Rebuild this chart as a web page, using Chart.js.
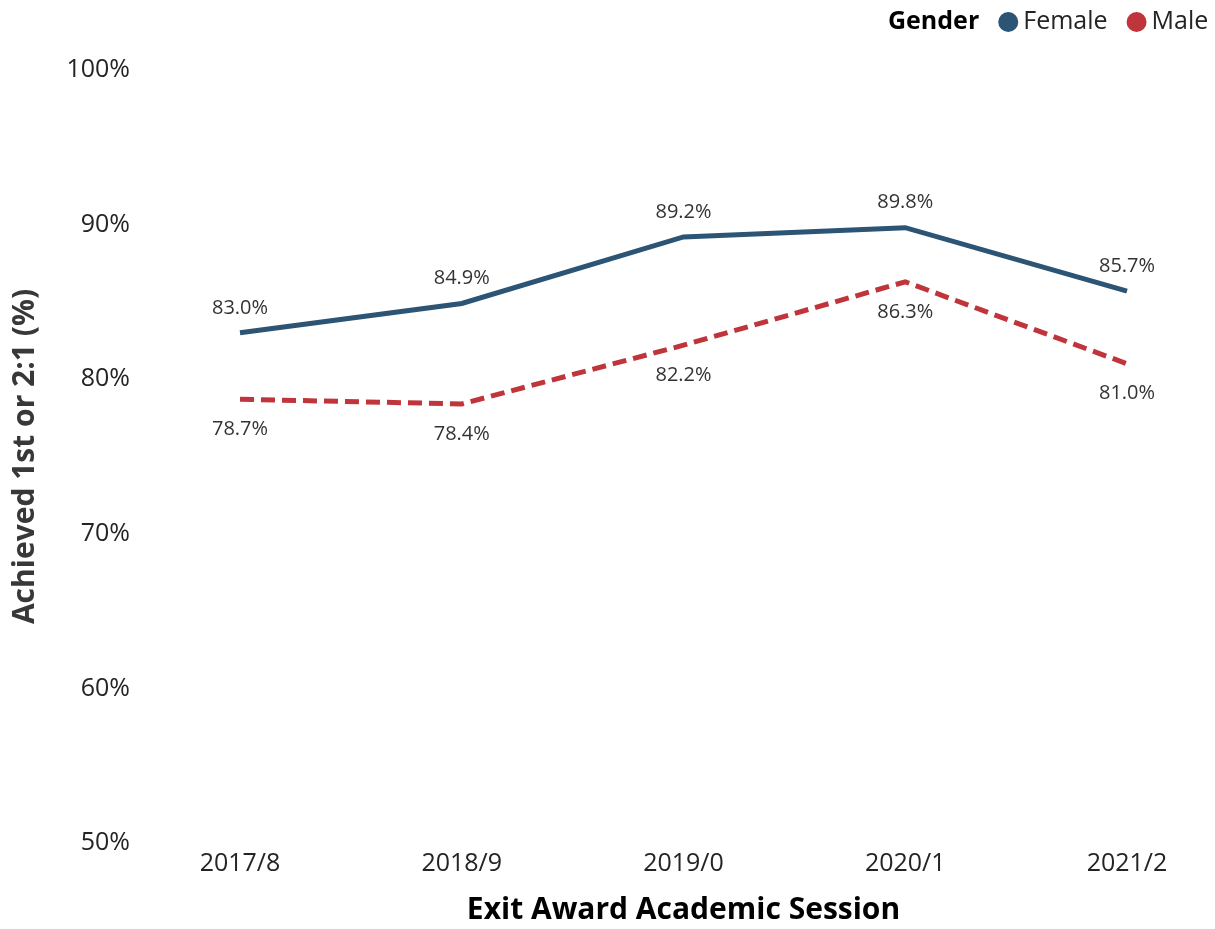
<!DOCTYPE html>
<html>
<head>
<meta charset="utf-8">
<script src="https://cdn.jsdelivr.net/npm/chart.js@4.4.1/dist/chart.umd.min.js"></script>
<style>
  html, body { margin: 0; padding: 0; background: #ffffff; }
  #wrap { width: 1215px; height: 929px; position: relative; }
</style>
</head>
<body>
<div id="wrap"><canvas id="c" width="1215" height="929"></canvas></div>
<script>
const categories = ["2017/8", "2018/9", "2019/0", "2020/1", "2021/2"];
const femaleValues = [83.0, 84.9, 89.2, 89.8, 85.7];
const maleValues = [78.7, 78.4, 82.2, 86.3, 81.0];
const yTickValues = [50, 60, 70, 80, 90, 100];

const FONT = "'Open Sans', 'Noto Sans', sans-serif";
const FEMALE_COLOR = "#2b5475";
const MALE_COLOR = "#c0343b";
const TEXT_COLOR = "#252423";

const dataLabelPlugin = {
  id: "dataLabels",
  afterDatasetsDraw(chart) {
    const ctx = chart.ctx;
    ctx.save();
    ctx.font = "20px " + FONT;
    ctx.fillStyle = "#333333";
    ctx.textAlign = "center";
    ctx.textBaseline = "middle";
    chart.data.datasets.forEach((ds, i) => {
      const meta = chart.getDatasetMeta(i);
      meta.data.forEach((pt, j) => {
        ctx.fillText(ds.data[j].toFixed(1) + "%", pt.x, pt.y + ds.labelOffset);
      });
    });
    ctx.restore();
  }
};

const legendPlugin = {
  id: "customLegend",
  afterDraw(chart) {
    const ctx = chart.ctx;
    ctx.save();
    ctx.textBaseline = "middle";
    ctx.textAlign = "left";
    const y = 22;
    let x = 888;
    ctx.font = "bold 25px " + FONT;
    ctx.fillStyle = "#000000";
    ctx.fillText("Gender", x, y);
    x += ctx.measureText("Gender").width + 19;
    ctx.font = "25px " + FONT;
    chart.data.datasets.forEach((ds) => {
      ctx.beginPath();
      ctx.fillStyle = ds.borderColor;
      ctx.arc(x + 10, y, 10, 0, Math.PI * 2);
      ctx.fill();
      x += 25;
      ctx.fillStyle = TEXT_COLOR;
      ctx.fillText(ds.label, x, y);
      x += ctx.measureText(ds.label).width + 19;
    });
    ctx.restore();
  }
};

new Chart(document.getElementById("c"), {
  type: "line",
  data: {
    labels: categories,
    datasets: [
      {
        label: "Female",
        data: femaleValues,
        borderColor: FEMALE_COLOR,
        backgroundColor: FEMALE_COLOR,
        borderWidth: 5,
        pointRadius: 0,
        tension: 0,
        labelOffset: -25
      },
      {
        label: "Male",
        data: maleValues,
        borderColor: MALE_COLOR,
        backgroundColor: MALE_COLOR,
        borderWidth: 5,
        borderDash: [14, 7],
        pointRadius: 0,
        tension: 0,
        labelOffset: 30
      }
    ]
  },
  options: {
    responsive: false,
    animation: false,
    devicePixelRatio: 1,
    layout: { padding: { top: 70, right: 0, bottom: 0, left: 0 } },
    plugins: {
      legend: { display: false },
      tooltip: { enabled: false }
    },
    scales: {
      x: {
        offset: false,
        grid: { display: false, drawTicks: false },
        border: { display: false },
        ticks: { color: TEXT_COLOR, font: { family: FONT, size: 25 }, padding: 6, maxRotation: 0 },
        title: {
          display: true,
          text: "Exit Award Academic Session",
          color: "#000000",
          font: { family: FONT, size: 30, weight: "bold" },
          padding: { top: 2, bottom: 1 }
        },
        afterFit(s) { s.height = 86; s.paddingLeft = 0; s.paddingRight = 0; }
      },
      y: {
        min: 50,
        max: 100,
        afterBuildTicks(s) { s.ticks = yTickValues.map(v => ({ value: v })); },
        grid: { display: false, drawTicks: false },
        border: { display: false },
        ticks: {
          color: TEXT_COLOR,
          font: { family: FONT, size: 25 },
          padding: 110,
          callback: (v) => v + "%"
        },
        title: {
          display: true,
          text: "Achieved 1st or 2:1 (%)",
          color: "#383838",
          font: { family: FONT, size: 30, weight: "bold" },
          padding: { top: 7, bottom: 0 }
        },
        afterFit(s) { s.width = 240; s.paddingTop = 0; s.paddingBottom = 0; }
      },
      yRight: {
        position: "right",
        display: true,
        grid: { display: false, drawTicks: false },
        border: { display: false },
        ticks: { display: false },
        afterFit(s) { s.width = 88; s.paddingTop = 0; s.paddingBottom = 0; }
      }
    }
  },
  plugins: [dataLabelPlugin, legendPlugin]
});
</script>
</body>
</html>
